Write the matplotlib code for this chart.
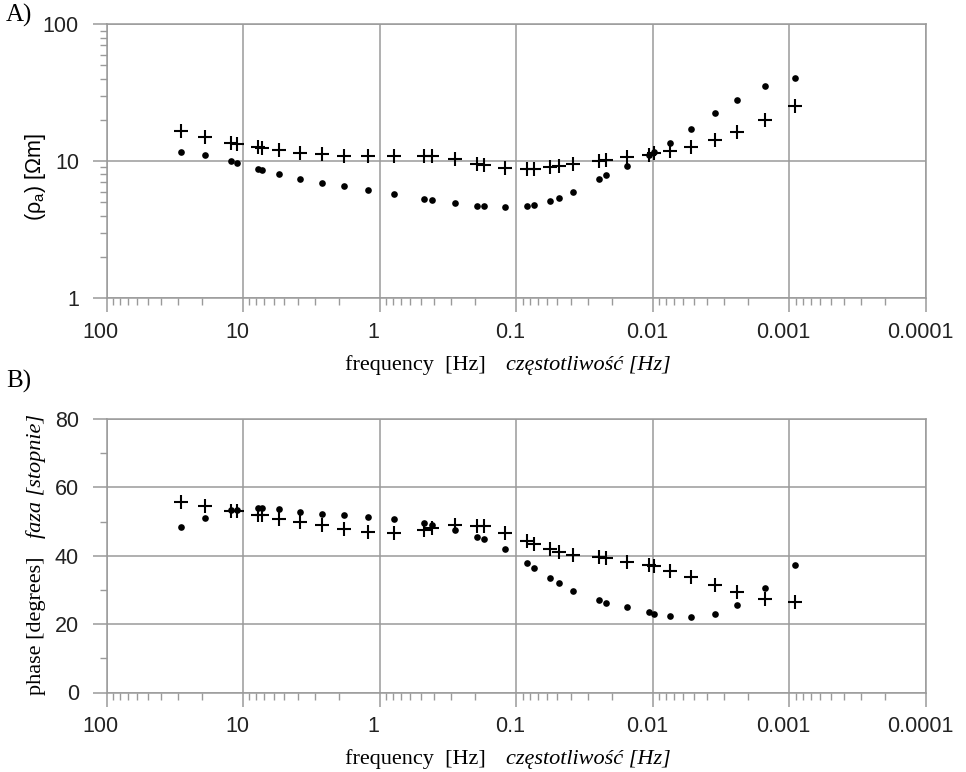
import matplotlib
matplotlib.use("Agg")
import matplotlib.pyplot as plt
import matplotlib.transforms as mtransforms
from matplotlib.ticker import LogLocator, MultipleLocator, NullFormatter

plt.rcParams['font.family'] = ['Liberation Sans', 'DejaVu Sans']
plt.rcParams['mathtext.fontset'] = 'custom'
plt.rcParams['mathtext.rm'] = 'Liberation Sans'

# frequencies [Hz], shared by both curves
freq = [28.6, 19.2, 12.2, 11.2, 7.80, 7.33, 5.51, 3.86, 2.65, 1.83, 1.23,
        0.788, 0.473, 0.418, 0.283, 0.193, 0.174, 0.121, 0.0834, 0.0741,
        0.0569, 0.0489, 0.0384, 0.0248, 0.0219, 0.0154, 0.0107, 0.00985,
        0.00752, 0.00522, 0.00352, 0.00242, 0.00152, 0.000915]

# apparent resistivity [Ohm m]
rho_plus = [16.6, 15.0, 13.55, 13.4, 12.6, 12.45, 12.0, 11.5, 11.2, 10.95,
            10.9, 10.95, 10.95, 10.95, 10.35, 9.5, 9.41, 8.84, 8.74, 8.74,
            9.04, 9.19, 9.46, 10.1, 10.2, 10.7, 11.1, 11.4, 11.8, 12.7,
            14.2, 16.2, 19.9, 25.2]
rho_dot = [11.6, 11.1, 10.0, 9.67, 8.80, 8.59, 7.99, 7.38, 6.94, 6.60,
           6.20, 5.77, 5.30, 5.21, 4.95, 4.73, 4.71, 4.62, 4.71, 4.82,
           5.13, 5.42, 6.00, 7.38, 7.86, 9.19, 11.0, 11.6, 13.6, 17.2,
           22.4, 28.2, 35.5, 40.6]

# phase [degrees]
phase_plus = [55.8, 54.6, 53.2, 53.2, 52.0, 52.0, 50.7, 49.9, 48.9, 47.8,
              47.0, 46.7, 47.6, 48.0, 48.9, 48.7, 48.7, 46.7, 44.4, 43.5,
              42.0, 41.2, 40.3, 39.7, 39.4, 38.2, 37.3, 37.0, 35.5, 33.9,
              31.5, 29.4, 27.4, 26.6]
phase_dot = [48.3, 51.0, 53.4, 53.4, 53.9, 53.9, 53.7, 52.9, 52.3, 51.8,
             51.3, 50.8, 49.6, 49.1, 47.6, 45.4, 44.8, 42.0, 37.9, 36.4,
             33.4, 31.9, 29.6, 27.0, 26.3, 25.0, 23.5, 23.1, 22.4, 22.0,
             23.1, 25.7, 30.7, 37.3]

x_ticks = [100, 10, 1, 0.1, 0.01, 0.001, 0.0001]
x_labels = ['100', '10', '1', '0.1', '0.01', '0.001', '0.0001']
rho_ticks = [1, 10, 100]
rho_labels = ['1', '10', '100']
phase_ticks = [0, 20, 40, 60, 80]

W, H = 966, 772
gray = '#9a9a9a'


def px(x, y):
    return x / W, 1 - y / H


fig = plt.figure(figsize=(W / 100, H / 100), dpi=100)
left, right = 106.7, 926
ax1 = fig.add_axes([left / W, 1 - 298 / H, (right - left) / W, (298 - 24.3) / H])
ax2 = fig.add_axes([left / W, 1 - 692.5 / H, (right - left) / W, (692.5 - 419) / H])

# x tick labels sit a little left of their ticks in the original
shift = mtransforms.ScaledTranslation(-6 / 100, 0, fig.dpi_scale_trans)

for ax in (ax1, ax2):
    ax.set_xscale('log')
    ax.set_xlim(100, 0.0001)
    ax.set_xticks(x_ticks, x_labels)
    ax.xaxis.set_minor_locator(LogLocator(base=10, subs=range(2, 10), numticks=20))
    ax.xaxis.set_minor_formatter(NullFormatter())
    ax.grid(True, which='major', color=gray, lw=1.1)
    ax.set_axisbelow(True)
    for s in ax.spines.values():
        s.set_color(gray)
        s.set_linewidth(1.1)
    ax.tick_params(which='major', length=10, width=1.1, color=gray,
                   labelsize=15.5, labelcolor='#222222')
    ax.tick_params(axis='x', which='major', pad=7)
    ax.tick_params(axis='y', which='major', pad=10)
    ax.tick_params(which='minor', length=5, width=1.0, color=gray)
    for lab in ax.get_xticklabels():
        lab.set_transform(lab.get_transform() + shift)

# A) resistivity
ax1.set_yscale('log')
ax1.set_ylim(1, 100)
ax1.set_yticks(rho_ticks, rho_labels)
ax1.yaxis.set_minor_locator(LogLocator(base=10, subs=range(2, 10), numticks=20))
ax1.yaxis.set_minor_formatter(NullFormatter())
ax1.plot(freq, rho_plus, ls='none', marker='+', ms=9.5, mew=1.5, color='black')
ax1.plot(freq, rho_dot, ls='none', marker='o', ms=4.8, mew=0, color='black')

# B) phase
ax2.set_ylim(0, 80)
ax2.set_yticks(phase_ticks)
ax2.yaxis.set_minor_locator(MultipleLocator(10))
ax2.plot(freq, phase_plus, ls='none', marker='+', ms=9.5, mew=1.5, color='black')
ax2.plot(freq, phase_dot, ls='none', marker='o', ms=4.8, mew=0, color='black')

serif = ['Liberation Serif', 'DejaVu Serif']
fs = 16

fig.text(*px(6, 15), 'A)', family=serif, fontsize=18, ha='left', va='center')
fig.text(*px(6, 381), 'B)', family=serif, fontsize=18, ha='left', va='center')

# x labels
for base in (370, 764):
    fig.text(*px(486, base), 'frequency  [Hz]', family=serif, fontsize=fs,
             ha='right', va='baseline')
    fig.text(*px(506, base), 'częstotliwość [Hz]', family=serif, style='italic',
             fontsize=fs, ha='left', va='baseline')

# y labels
fig.text(*px(35, 177), '(ρ$_\\mathrm{a}$) [Ωm]', fontsize=15.5, rotation=90,
         ha='center', va='center')
fig.text(*px(36, 626), 'phase [degrees]', family=serif, fontsize=fs,
         rotation=90, ha='center', va='center')
fig.text(*px(36, 476), 'faza [stopnie]', family=serif, style='italic',
         fontsize=fs, rotation=90, ha='center', va='center')

fig.savefig('out.png', dpi=100)
